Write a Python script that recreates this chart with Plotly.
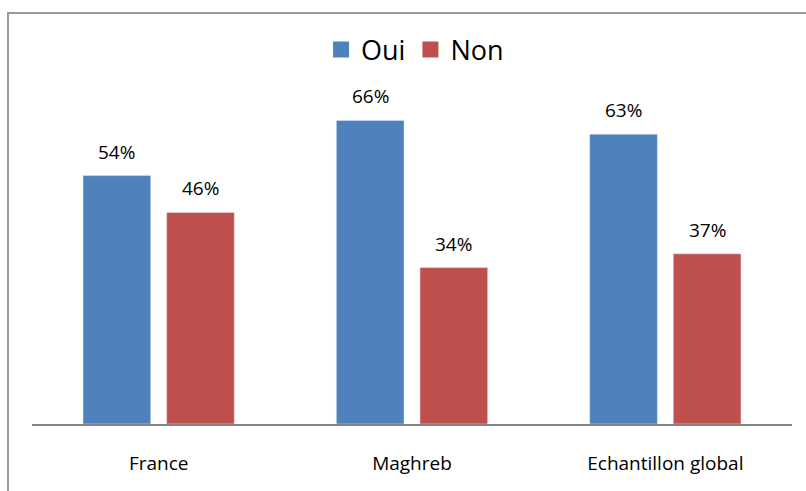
import plotly.graph_objects as go

categories = ["France", "Maghreb", "Echantillon global"]
oui = [54, 66, 63]
non = [46, 34, 37]
series_names = ["Oui", "Non"]
colors = ["#4F81BD", "#C0504D"]

W, H = 806, 491
L, R, T, B = 32, 14, 102, 67
FONT = "Open Sans"

fig = go.Figure()
for name, vals, col in zip(series_names, [oui, non], colors):
    fig.add_trace(go.Bar(x=categories, y=vals, name=name, marker_color=col,
                         showlegend=False))
    # legend proxy
    fig.add_trace(go.Scatter(x=[None], y=[None], mode="markers", name=name,
                             marker=dict(symbol="square", size=16, color=col)))

# data labels
plot_w = W - L - R
cat_w = plot_w / len(categories)
bargap = 0.34
group_w = cat_w * (1 - bargap)
offsets = [-group_w / 4, group_w / 4]
for vals, off in zip([oui, non], offsets):
    for c, v in zip(categories, vals):
        fig.add_annotation(x=c, y=v, text=f"{v}%", showarrow=False,
                           xshift=off, yanchor="bottom", yshift=9,
                           font=dict(family=FONT, size=19, color="#000000"))

# outer border
fig.add_shape(type="rect", xref="paper", yref="paper",
              x0=(8 - L) / plot_w, x1=(W + 5 - L) / plot_w,
              y0=-(H + 5 - (H - B)) / (H - T - B), y1=(H - B - 13) / (H - T - B),
              line=dict(color="#9a9a9a", width=2), fillcolor="rgba(0,0,0,0)",
              layer="below")

fig.update_layout(
    width=W, height=H,
    margin=dict(l=L, r=R, t=T, b=B),
    paper_bgcolor="white", plot_bgcolor="white",
    barmode="group", bargap=bargap, bargroupgap=0.19,
    font=dict(family=FONT, color="#000000"),
    legend=dict(orientation="h", x=0.504, xanchor="center",
                y=(H - B - 50) / (H - T - B), yanchor="middle",
                font=dict(family=FONT, size=27, color="#000000"),
                itemwidth=30, tracegroupgap=0, bgcolor="rgba(0,0,0,0)"),
    xaxis=dict(showline=True, linecolor="#868686", linewidth=2, ticks="",
               tickfont=dict(family=FONT, size=19, color="#000000"),
               showgrid=False, zeroline=False, ticklabelstandoff=21),
    yaxis=dict(range=[0, 70], visible=False, showgrid=False, zeroline=False),
)

fig.write_html("out.html")
